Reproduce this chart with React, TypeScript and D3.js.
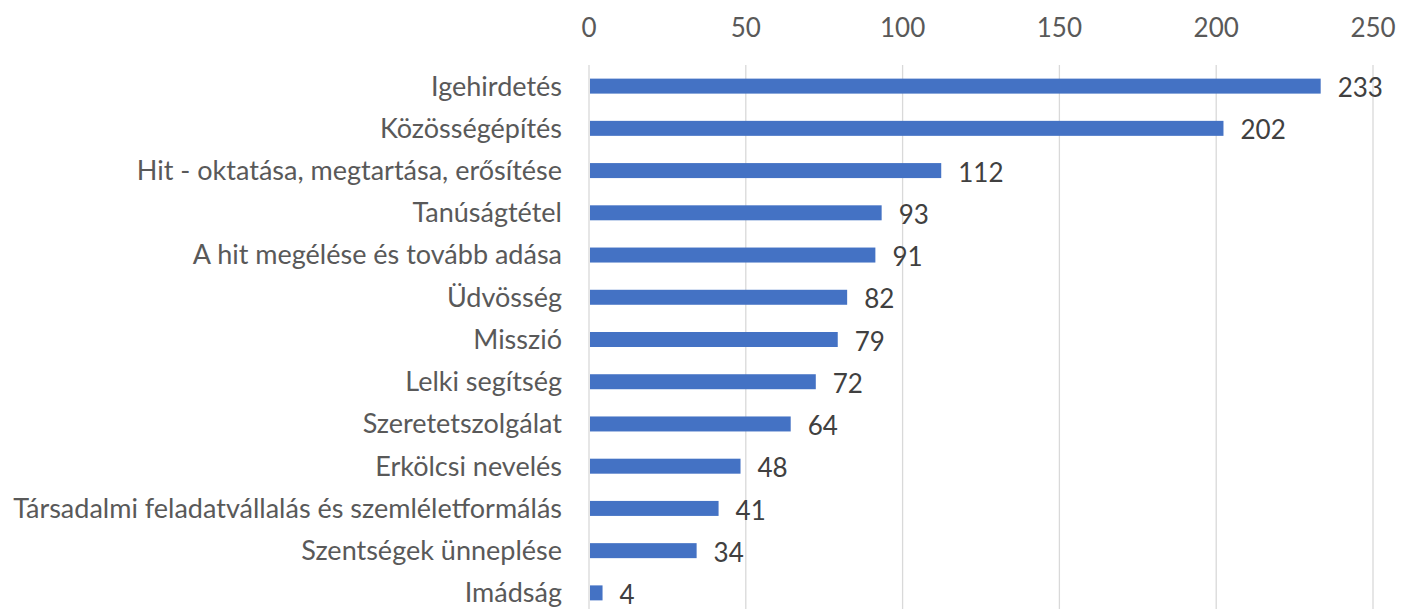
import React, { useEffect, useRef } from "react"
import * as d3 from "d3"

const categories = [
	"Igehirdetés",
	"Közösségépítés",
	"Hit - oktatása, megtartása, erősítése",
	"Tanúságtétel",
	"A hit megélése és tovább adása",
	"Üdvösség",
	"Misszió",
	"Lelki segítség",
	"Szeretetszolgálat",
	"Erkölcsi nevelés",
	"Társadalmi feladatvállalás és szemléletformálás",
	"Szentségek ünneplése",
	"Imádság",
]
const values = [233, 202, 112, 93, 91, 82, 79, 72, 64, 48, 41, 34, 4]
const ticks = [0, 50, 100, 150, 200, 250]

const width = 1406
const height = 609
const FONT = "Lato, 'Open Sans', sans-serif"

const App = () => {
	const svgRef = useRef<SVGSVGElement>(null)

	useEffect(() => {
		const margin = { top: 65, right: 33, bottom: -5, left: 589 }
		const svg = d3.select(svgRef.current)
		svg.selectAll("*").remove()

		const x = d3
			.scaleLinear()
			.domain([0, 250])
			.range([margin.left, width - margin.right])
		const y = d3
			.scaleBand()
			.domain(categories)
			.range([margin.top, height - margin.bottom])
			.paddingInner(0.645)
			.paddingOuter(0.3225)

		// gridlines
		svg.append("g")
			.selectAll("line")
			.data(ticks)
			.join("line")
			.attr("x1", (d) => x(d))
			.attr("x2", (d) => x(d))
			.attr("y1", margin.top)
			.attr("y2", height)
			.attr("stroke", "#d9d9d9")
			.attr("stroke-width", 1.3)

		// top tick labels
		svg.append("g")
			.selectAll("text")
			.data(ticks)
			.join("text")
			.attr("x", (d) => x(d))
			.attr("y", 28)
			.attr("dy", "0.35em")
			.attr("text-anchor", "middle")
			.attr("fill", "#595959")
			.attr("font-family", FONT)
			.attr("font-size", 26)
			.text((d) => d)

		// category labels
		svg.append("g")
			.selectAll("text")
			.data(categories)
			.join("text")
			.attr("x", margin.left - 27)
			.attr("y", (d) => y(d)! + y.bandwidth() / 2)
			.attr("dy", "0.35em")
			.attr("text-anchor", "end")
			.attr("fill", "#595959")
			.attr("font-family", FONT)
			.attr("font-size", 27)
			.text((d) => d)

		// bars
		svg.append("g")
			.selectAll("rect")
			.data(values)
			.join("rect")
			.attr("x", x(0) + 1)
			.attr("y", (d, i) => y(categories[i])!)
			.attr("width", (d) => x(d) - x(0))
			.attr("height", y.bandwidth())
			.attr("fill", "#4472c4")

		// value labels
		svg.append("g")
			.selectAll("text")
			.data(values)
			.join("text")
			.attr("x", (d) => x(d) + 18)
			.attr("y", (d, i) => y(categories[i])! + y.bandwidth() / 2 + 2)
			.attr("dy", "0.35em")
			.attr("fill", "#404040")
			.attr("font-family", FONT)
			.attr("font-size", 26)
			.text((d) => d)
	}, [])

	return (
		<svg
			ref={svgRef}
			width={width}
			height={height}
			style={{ position: "absolute", left: 0, top: 0, background: "#fff" }}
		/>
	)
}

export default App
